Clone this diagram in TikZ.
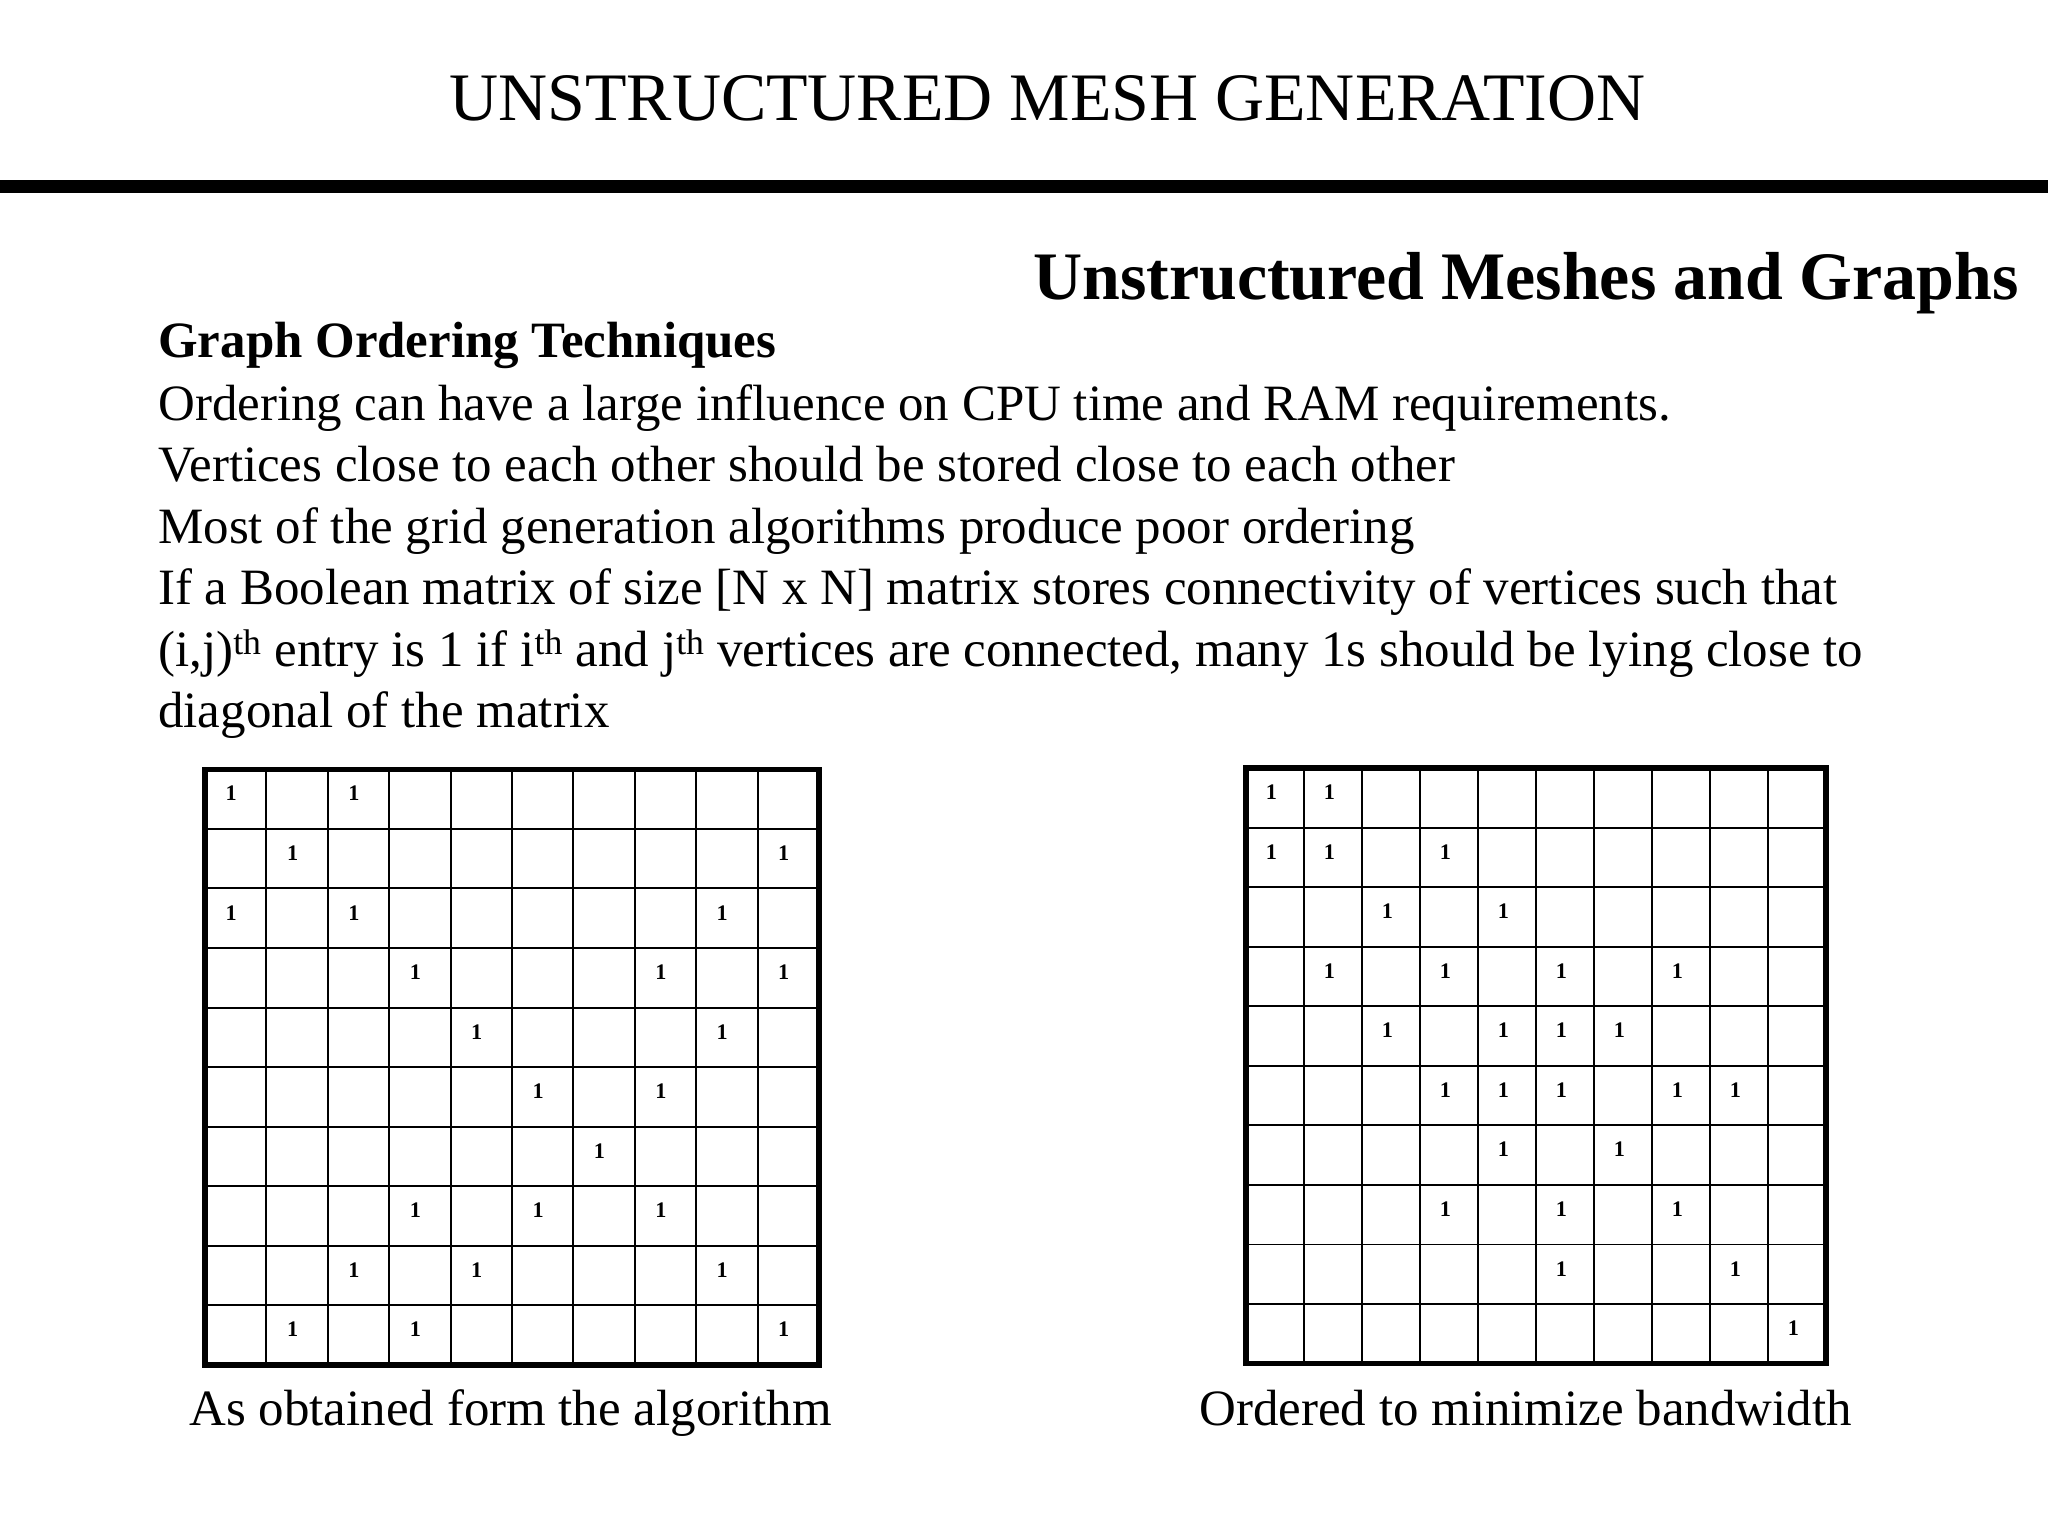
\documentclass[tikz,border=0pt]{standalone}
\usepackage{fontspec}
\setmainfont{Liberation Serif}
\begin{document}
\begin{tikzpicture}[x=1pt,y=-1pt,
  body/.style={anchor=base west,inner sep=0,font=\fontsize{39}{42}\selectfont},
  one/.style={inner sep=0,font=\bfseries\fontsize{17}{17}\selectfont},
  captext/.style={inner sep=0,anchor=base,font=\fontsize{39}{42}\selectfont}]
\useasboundingbox (0,0) rectangle (1568,1176);
\node[inner sep=0,anchor=base,font=\fontsize{52}{56}\selectfont] (title) at (802,92) {UNSTRUCTURED MESH GENERATION};
\fill (0,138) rectangle (1568,148);
\node[inner sep=0,anchor=base east,font=\bfseries\fontsize{52}{56}\selectfont] (sub) at (1546,229) {Unstructured Meshes and Graphs};
\node[body,font=\bfseries\fontsize{39}{42}\selectfont] (h) at (121,274) {Graph Ordering Techniques};
\node[body] (l1) at (121,322) {Ordering can have a large influence on CPU time and RAM requirements.};
\node[body] (l2) at (121,369) {Vertices close to each other should be stored close to each other};
\node[body] (l3) at (121,416) {Most of the grid generation algorithms produce poor ordering};
\node[body] (l4) at (121,463) {If a Boolean matrix of size [N x N] matrix stores connectivity of vertices such that};
\node[body] (l5) at (121,510) {(i,j)\textsuperscript{th} entry is 1 if i\textsuperscript{th} and j\textsuperscript{th} vertices are connected, many 1s should be lying close to};
\node[body] (l6) at (121,557) {diagonal of the matrix};
% left matrix
\begin{scope}[shift={(157,589)}]
\foreach \i in {1,...,9}{\draw[line width=1.5pt] (\i*47,0) -- (\i*47,456); \draw[line width=1.5pt] (0,\i*45.6) -- (470,\i*45.6);}
\draw[line width=4pt] (0,0) rectangle (470,456);
\foreach \r/\cs in {1/{1,3},2/{2,10},3/{1,3,9},4/{4,8,10},5/{5,9},6/{6,8},7/{7},8/{4,6,8},9/{3,5,9},10/{2,4,10}}
  \foreach \c in \cs \node[one] at (\c*47-27,\r*45.6-27) {1};
\end{scope}
% right matrix
\begin{scope}[shift={(954,588)}]
\foreach \i in {1,...,9}{\draw[line width=1.5pt] (\i*44.4,0) -- (\i*44.4,456); \draw[line width=1.5pt] (0,\i*45.6) -- (444,\i*45.6);}
\draw[line width=4pt] (0,0) rectangle (444,456);
\foreach \r/\cs in {1/{1,2},2/{1,2,4},3/{3,5},4/{2,4,6,8},5/{3,5,6,7},6/{4,5,6,8,9},7/{5,7},8/{4,6,8},9/{6,9},10/{10}}
  \foreach \c in \cs \node[one] at (\c*44.4-25,\r*45.6-27) {1};
\end{scope}
\node[captext] (c1) at (391,1091) {As obtained form the algorithm};
\node[captext] (c2) at (1168,1091) {Ordered to minimize bandwidth};
\end{tikzpicture}
\end{document}
